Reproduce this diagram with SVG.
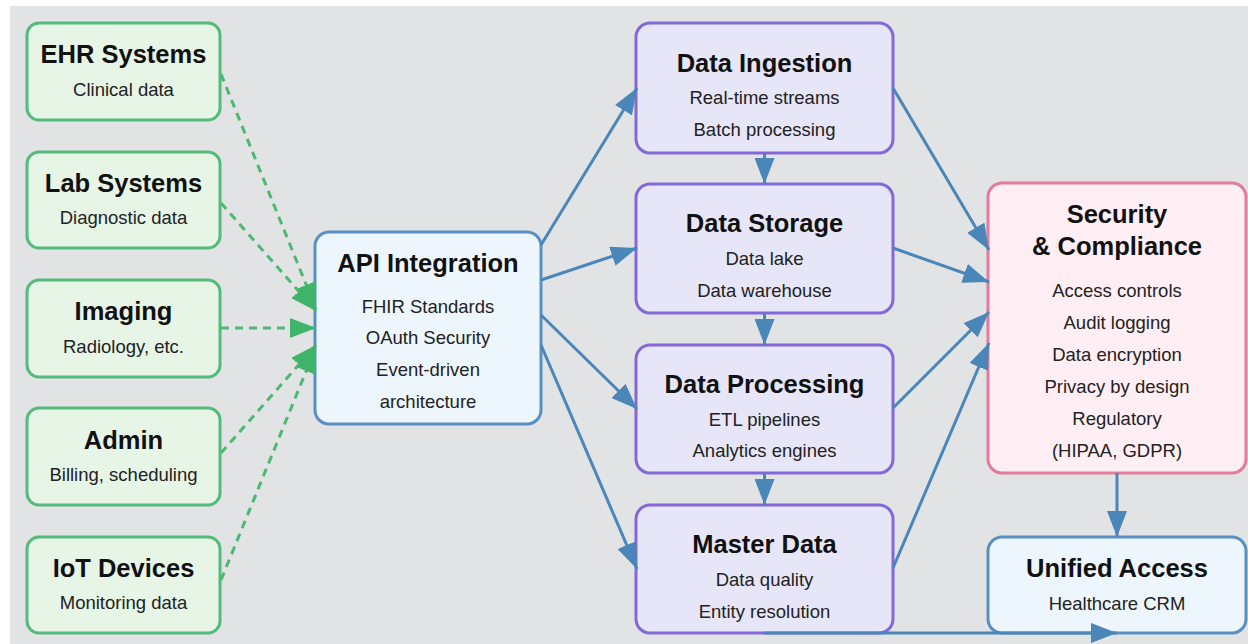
<svg xmlns="http://www.w3.org/2000/svg" width="1248" height="644" viewBox="0 0 1248 644">
<style>
  .t{font-family:"Liberation Sans",Arial,sans-serif;font-weight:bold;font-size:25.5px;fill:#111;text-anchor:middle}
  .s{font-family:"Liberation Sans",Arial,sans-serif;font-size:18.5px;fill:#222;text-anchor:middle}
  .src rect{fill:#e7f5e7;stroke:#55bb7a;stroke-width:3}
  .blue rect{fill:#eef6fd;stroke:#5a8fc2;stroke-width:3}
  .proc rect{fill:#e6e6f8;stroke:#8468d6;stroke-width:3}
  .sec rect{fill:#ffeef3;stroke:#e07c9c;stroke-width:3}
  .e{fill:none;stroke:#4a86b8;stroke-width:3}
  .d{fill:none;stroke:#4cb872;stroke-width:3;stroke-dasharray:8 6}
</style>
<defs>
  <marker id="ab" markerUnits="userSpaceOnUse" markerWidth="26" markerHeight="20" refX="26" refY="10" orient="auto">
    <path d="M0,0 L26,10 L0,20 Z" fill="#4a86b8"/>
  </marker>
  <marker id="ag" markerUnits="userSpaceOnUse" markerWidth="26" markerHeight="20" refX="26" refY="10" orient="auto">
    <path d="M0,0 L26,10 L0,20 Z" fill="#3fb46a"/>
  </marker>
</defs>
<rect x="0" y="0" width="1248" height="644" fill="#ffffff"/>
<rect x="10" y="6" width="1238" height="638" fill="#e2e3e5"/>

<g id="ehr" class="src"><rect x="27" y="23" width="193" height="97" rx="12"/><text class="t" x="123.5" y="63">EHR Systems</text><text class="s" x="123.5" y="96">Clinical data</text></g>
<g id="lab" class="src"><rect x="27" y="152" width="193" height="96" rx="12"/><text class="t" x="123.5" y="192">Lab Systems</text><text class="s" x="123.5" y="224">Diagnostic data</text></g>
<g id="imaging" class="src"><rect x="27" y="280" width="193" height="97" rx="12"/><text class="t" x="123.5" y="320">Imaging</text><text class="s" x="123.5" y="353">Radiology, etc.</text></g>
<g id="admin" class="src"><rect x="27" y="408" width="193" height="97" rx="12"/><text class="t" x="123.5" y="449">Admin</text><text class="s" x="123.5" y="481">Billing, scheduling</text></g>
<g id="iot" class="src"><rect x="27" y="537" width="193" height="96" rx="12"/><text class="t" x="123.5" y="577">IoT Devices</text><text class="s" x="123.5" y="609">Monitoring data</text></g>

<g id="api" class="blue"><rect x="315" y="232" width="226" height="192" rx="14"/><text class="t" x="428" y="272">API Integration</text><text class="s" x="428" y="313">FHIR Standards</text><text class="s" x="428" y="344">OAuth Security</text><text class="s" x="428" y="376">Event-driven</text><text class="s" x="428" y="408">architecture</text></g>

<g id="ingestion" class="proc"><rect x="636" y="23" width="257" height="130" rx="14"/><text class="t" x="764.5" y="72">Data Ingestion</text><text class="s" x="764.5" y="104">Real-time streams</text><text class="s" x="764.5" y="136">Batch processing</text></g>
<g id="storage" class="proc"><rect x="636" y="184" width="257" height="129" rx="14"/><text class="t" x="764.5" y="232">Data Storage</text><text class="s" x="764.5" y="265">Data lake</text><text class="s" x="764.5" y="297">Data warehouse</text></g>
<g id="processing" class="proc"><rect x="636" y="345" width="257" height="128" rx="14"/><text class="t" x="764.5" y="393">Data Processing</text><text class="s" x="764.5" y="426">ETL pipelines</text><text class="s" x="764.5" y="457">Analytics engines</text></g>
<g id="master" class="proc"><rect x="636" y="505" width="257" height="128" rx="14"/><text class="t" x="764.5" y="553">Master Data</text><text class="s" x="764.5" y="586">Data quality</text><text class="s" x="764.5" y="618">Entity resolution</text></g>

<g id="security" class="sec"><rect x="988" y="183" width="258" height="290" rx="14"/><text class="t" x="1117" y="223">Security</text><text class="t" x="1117" y="255">&amp; Compliance</text><text class="s" x="1117" y="297">Access controls</text><text class="s" x="1117" y="329">Audit logging</text><text class="s" x="1117" y="361">Data encryption</text><text class="s" x="1117" y="393">Privacy by design</text><text class="s" x="1117" y="425">Regulatory</text><text class="s" x="1117" y="457">(HIPAA, GDPR)</text></g>
<g id="unified" class="blue"><rect x="988" y="537" width="258" height="96" rx="14"/><text class="t" x="1117" y="577">Unified Access</text><text class="s" x="1117" y="610">Healthcare CRM</text></g>

<g id="connectors">
  <path class="d" d="M221,74 L316,309" marker-end="url(#ag)"/>
  <path class="d" d="M221,203 L316,311" marker-end="url(#ag)"/>
  <path class="d" d="M221,328 L316,328" marker-end="url(#ag)"/>
  <path class="d" d="M221,453 L316,345" marker-end="url(#ag)"/>
  <path class="d" d="M221,580 L316,347" marker-end="url(#ag)"/>

  <path class="e" d="M541,245 L637,88" marker-end="url(#ab)"/>
  <path class="e" d="M541,280 L637,248" marker-end="url(#ab)"/>
  <path class="e" d="M541,315 L637,409" marker-end="url(#ab)"/>
  <path class="e" d="M541,345 L637,569" marker-end="url(#ab)"/>

  <path class="e" d="M764.5,153 L764.5,184" marker-end="url(#ab)"/>
  <path class="e" d="M764.5,313 L764.5,345" marker-end="url(#ab)"/>
  <path class="e" d="M764.5,473 L764.5,505" marker-end="url(#ab)"/>

  <path class="e" d="M893,88 L989,250" marker-end="url(#ab)"/>
  <path class="e" d="M893,248 L989,282" marker-end="url(#ab)"/>
  <path class="e" d="M893,408 L989,312" marker-end="url(#ab)"/>
  <path class="e" d="M893,568 L989,343" marker-end="url(#ab)"/>

  <path class="e" d="M1117,473 L1117,537" marker-end="url(#ab)"/>
  <path class="e" d="M764.5,633 L1117,633" marker-end="url(#ab)"/>
</g>
</svg>
